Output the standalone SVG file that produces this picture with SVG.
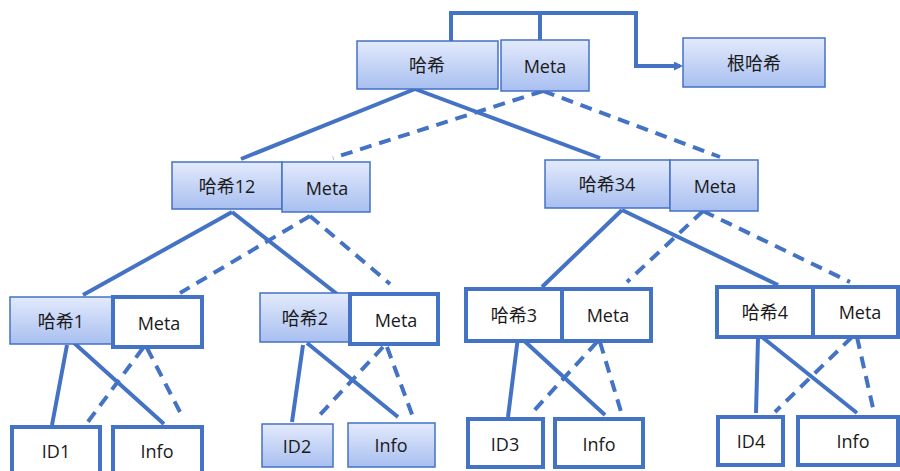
<svg xmlns="http://www.w3.org/2000/svg" width="900" height="471" viewBox="0 0 900 471">
<defs>
<linearGradient id="g" x1="0" y1="0" x2="0" y2="1">
<stop offset="0" stop-color="#e3eafc"/>
<stop offset="1" stop-color="#a8bff0"/>
</linearGradient>
<marker id="arr" markerWidth="9" markerHeight="9" refX="6" refY="4.5" orient="auto" markerUnits="userSpaceOnUse" viewBox="0 0 9 9">
<path d="M0,0 L9,4.5 L0,9 z" fill="#4472c4"/>
</marker>
</defs>
<style>
.gb{fill:url(#g);stroke:#4472c4;stroke-width:1.5}
.wb{fill:#fff;stroke:#4472c4;stroke-width:4}
.t{font-family:"Open Sans","Noto Sans CJK SC",sans-serif;font-size:18px;fill:#1a1a1a;text-anchor:middle;dominant-baseline:central}
.s{fill:none;stroke:#4472c4;stroke-width:4}
.d{fill:none;stroke:#4472c4;stroke-width:4;stroke-dasharray:12 8}
</style>
<g id="connectors">
<path class="s" d="M451,41 V13 H636 V66 H680" marker-end="url(#arr)"/>
<path class="s" d="M540,13 V40"/>
<path class="s" d="M415,89 L241,159 M415,89 L600,158"/>
<path class="d" d="M543,91 L333,158 M543,91 L720,157"/>
<path class="s" d="M232,212 L83,295 M232,212 L337,294"/>
<path class="d" d="M310,216 L180,293 M310,216 L390,284"/>
<path class="s" d="M622,210 L542,287 M622,210 L778,285"/>
<path class="d" d="M703,211 L627,282 M703,211 L850,282"/>
<path class="s" d="M67,345 L52,425 M73,342 L164,424"/>
<path class="d" d="M143,348 L87,423 M147,348 L180,412"/>
<path class="s" d="M303,345 L292,422 M307,343 L398,417"/>
<path class="d" d="M383,347 L315,420 M387,347 L413,417"/>
<path class="s" d="M518,337 L508,417 M520,337 L605,415"/>
<path class="d" d="M597,342 L530,415 M600,342 L622,415"/>
<path class="s" d="M758,338 L756,413 M762,337 L857,413"/>
<path class="d" d="M852,337 L775,412 M857,337 L873,408"/>
</g>
<g id="root-hash"><rect class="gb" x="357" y="41" width="141" height="48"/><text class="t" x="427" y="65">哈希</text></g>
<g id="root-meta"><rect class="gb" x="501" y="40" width="88" height="51"/><text class="t" x="545" y="66">Meta</text></g>
<g id="roothash"><rect class="gb" x="683" y="38" width="142" height="49"/><text class="t" x="754" y="63">根哈希</text></g>
<g id="hash12"><rect class="gb" x="172" y="162" width="110" height="47"/><text class="t" x="227" y="186">哈希12</text></g>
<g id="meta12"><rect class="gb" x="282" y="162" width="88" height="50"/><text class="t" x="327" y="188">Meta</text></g>
<g id="hash34"><rect class="gb" x="545" y="160" width="125" height="48"/><text class="t" x="607" y="184">哈希34</text></g>
<g id="meta34"><rect class="gb" x="670" y="160" width="88" height="51"/><text class="t" x="715" y="186">Meta</text></g>
<g id="hash1"><rect class="gb" x="10" y="297" width="103" height="47"/><text class="t" x="61" y="321">哈希1</text></g>
<g id="meta1"><rect class="wb" x="113" y="297" width="89" height="50"/><text class="t" x="159" y="323">Meta</text></g>
<g id="id1"><rect class="wb" x="12" y="427" width="88" height="50"/><text class="t" x="56" y="451">ID1</text></g>
<g id="info1"><rect class="wb" x="113" y="427" width="89" height="50"/><text class="t" x="157" y="451">Info</text></g>
<g id="hash2"><rect class="gb" x="260" y="293" width="90" height="49"/><text class="t" x="305" y="318">哈希2</text></g>
<g id="meta2"><rect class="wb" x="350" y="294" width="88" height="50"/><text class="t" x="396" y="320">Meta</text></g>
<g id="id2"><rect class="gb" x="262" y="424" width="71" height="43"/><text class="t" x="297" y="446">ID2</text></g>
<g id="info2"><rect class="gb" x="348" y="423" width="87" height="44"/><text class="t" x="391" y="445">Info</text></g>
<g id="hash3"><rect class="wb" x="466" y="289" width="96" height="52"/><text class="t" x="514" y="315">哈希3</text></g>
<g id="meta3"><rect class="wb" x="562" y="289" width="89" height="52"/><text class="t" x="608" y="315">Meta</text></g>
<g id="id3"><rect class="wb" x="468" y="419" width="75" height="48"/><text class="t" x="505" y="444">ID3</text></g>
<g id="info3"><rect class="wb" x="555" y="419" width="88" height="48"/><text class="t" x="599" y="444">Info</text></g>
<g id="hash4"><rect class="wb" x="717" y="287" width="96" height="50"/><text class="t" x="765" y="312">哈希4</text></g>
<g id="meta4"><rect class="wb" x="813" y="287" width="85" height="50"/><text class="t" x="860" y="312">Meta</text></g>
<g id="id4"><rect class="wb" x="718" y="417" width="65" height="48"/><text class="t" x="751" y="441">ID4</text></g>
<g id="info4"><rect class="wb" x="798" y="417" width="100" height="48"/><text class="t" x="853" y="441">Info</text></g>
</svg>
